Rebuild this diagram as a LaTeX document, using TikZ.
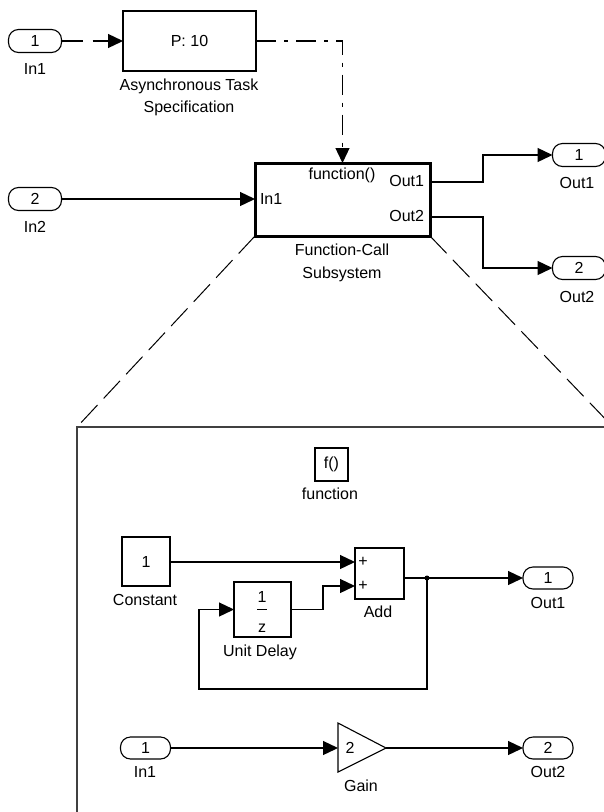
\documentclass[tikz,border=0pt]{standalone}
\usepackage{fontspec}
\setmainfont{Liberation Sans}
\usetikzlibrary{arrows.meta}
\begin{document}
\begin{tikzpicture}[x=1pt,y=-1pt,
  every node/.style={font=\fontsize{16}{18}\selectfont, inner sep=0pt, outer sep=0pt},
  blk/.style={draw, line width=1.3pt},
  port/.style={draw, line width=1.1pt, rounded corners=10pt, minimum width=53pt, minimum height=23pt},
  wire/.style={line width=1.3pt, -{Triangle[length=15pt,width=14pt]}},
  plainwire/.style={line width=1.3pt},
  proj/.style={line width=1pt, dash pattern=on 24pt off 9pt},
]
\useasboundingbox (0,0) rectangle (604,812);
\fill[white] (0,0) rectangle (604,812);
\clip (0,0) rectangle (604,812);

% ---------- top level ----------
\node[port] (in1top) at (35,41) {1};
\node (in1toplbl) at (35,69) {In1};

\node[blk, minimum width=133pt, minimum height=60pt] (ptask) at (189.5,41) {P: 10};
\node (ptasklbla) at (189,86) {Asynchronous Task};
\node (ptasklblb) at (189,108) {Specification};

\node[draw, line width=3pt, minimum width=175pt, minimum height=73pt] (fcs) at (342.5,199.5) {};
\node (fcsfn) at (342,175) {function()};
\node[anchor=west] (fcsin) at (260,199) {In1};
\node[anchor=east] (fcso1t) at (424,181) {Out1};
\node[anchor=east] (fcso2t) at (424,216) {Out2};
\node (fcslbla) at (342,250) {Function-Call};
\node (fcslblb) at (342,274) {Subsystem};

\node[port] (in2) at (35,199) {2};
\node (in2lbl) at (35,227) {In2};

\node[port] (out1top) at (579,155) {1};
\node (out1toplbl) at (577,183) {Out1};
\node[port] (out2top) at (579,268) {2};
\node (out2toplbl) at (577,297) {Out2};

\draw[wire, dash pattern=on 21pt off 10pt] (in1top.east) -- (ptask.west);
\draw[wire, dash pattern=on 20pt off 8pt on 4pt off 8pt] (ptask.east) -- (fcs.north |- ptask.east) -- (fcs.north);
\draw[wire] (in2.east) -- (fcs.west |- in2.east);
\draw[wire] (fcs.east |- 0,182) -- (483,182) |- (out1top.west);
\draw[wire] (fcs.east |- 0,217) -- (483,217) |- (out2top.west);

% projection lines
\draw[proj] (fcs.south west) -- (77,427);
\draw[proj] (fcs.south east) -- (613,427);

% ---------- expanded subsystem ----------
\draw[line width=1.5pt, black!75] (77,830) -- (77,427) -- (620,427);

\node[blk, minimum width=33pt, minimum height=33pt] (fbox) at (331.5,464.5) {f()};
\node (fboxlbl) at (330,494) {function};

\node[blk, minimum width=48pt, minimum height=49pt] (const) at (146,561.5) {1};
\node (constlbl) at (145,600) {Constant};

\node[blk, minimum width=57pt, minimum height=55pt] (udelay) at (262.5,609.5) {};
\node (udnum) at (262,597) {1};
\draw[line width=1pt] (257,609) -- (267,609);
\node (udden) at (262,628) {z};
\node (udlbl) at (260,652) {Unit Delay};

\node[blk, minimum width=49pt, minimum height=51pt] (add) at (379.5,573.5) {};
\node (addp1) at (363,562) {+};
\node (addp2) at (363,586) {+};
\node (addlbl) at (378,612) {Add};

\node[port, minimum width=50pt, minimum height=22pt] (out1in) at (548,578) {1};
\node (out1inlbl) at (548,603) {Out1};

\node[port, minimum width=50pt, minimum height=22pt] (in1in) at (145.5,748) {1};
\node (in1inlbl) at (145,772) {In1};

\coordinate (gainin) at (338,748);
\coordinate (gaintip) at (386,748);
\draw[line width=1.1pt] (338,723) -- (gaintip) -- (338,772) -- cycle;
\node (gaink) at (350,748) {2};
\node (gainlbl) at (361,786) {Gain};

\node[port, minimum width=50pt, minimum height=22pt] (out2in) at (548,748) {2};
\node (out2inlbl) at (548,772) {Out2};

\coordinate (jn) at (427,578);

\draw[wire] (const.east |- 0,562) -- (add.west |- 0,562);
\draw[wire] (udelay.east) -- (323,609.5) |- (add.west |- 0,586);
\draw[wire] (add.east |- jn) -- (out1in.west);
\fill (jn) circle (2.5pt);
\draw[wire] (jn) -- (427,689) -| (199,609.5) -- (udelay.west);
\draw[wire] (in1in.east) -- (gainin);
\draw[wire] (gaintip) -- (out2in.west);
\end{tikzpicture}
\end{document}
